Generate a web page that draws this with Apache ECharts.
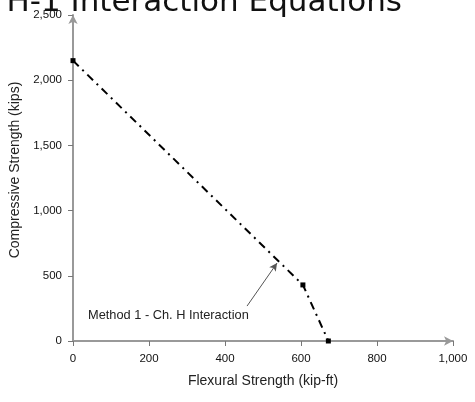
<!DOCTYPE html>
<html>
<head>
<meta charset="utf-8">
<script src="https://cdn.jsdelivr.net/npm/echarts@6/dist/echarts.min.js"></script>
<style>
  html, body { margin: 0; padding: 0; background: #fff; }
  #chart { width: 475px; height: 402px; }
</style>
</head>
<body>
<div id="chart"></div>
<script>
// interaction curve points: [flexural (kip-ft), compressive (kips)]
const flexural = [0, 605, 672];
const compressive = [2150, 430, 0];
const xTicks = [0, 200, 400, 600, 800, 1000];
const yTicks = [0, 500, 1000, 1500, 2000, 2500];
// annotation arrow, from label to curve (data units)
const arrowFrom = [458, 268];
const arrowTo = [537, 598];

const fmt = v => v.toLocaleString('en-US');
const curve = flexural.map((x, i) => [x, compressive[i]]);

const chart = echarts.init(document.getElementById('chart'), null, { renderer: 'canvas' });

const axisCommon = {
	axisLine: {
		lineStyle: { color: '#999', width: 2 },
		symbol: ['none', 'arrow'],
		symbolSize: [7, 9]
	},
	axisTick: { length: 5, lineStyle: { color: '#777', width: 1 } },
	splitLine: { show: false },
	axisLabel: { color: '#111', fontSize: 11.5, fontFamily: 'Liberation Sans', formatter: fmt },
	nameTextStyle: { color: '#222', fontSize: 14, fontFamily: 'Liberation Sans' },
	nameLocation: 'middle'
};

chart.setOption({
	animation: false,
	backgroundColor: '#fff',
	grid: { left: 73, right: 22, top: 15, bottom: 61, outerBoundsMode: 'none', containLabel: false },
	xAxis: Object.assign({}, axisCommon, {
		type: 'value',
		min: xTicks[0],
		max: xTicks[xTicks.length - 1],
		interval: 200,
		name: 'Flexural Strength (kip-ft)',
		nameGap: 33,
		axisLabel: Object.assign({}, axisCommon.axisLabel, { margin: 12 })
	}),
	yAxis: Object.assign({}, axisCommon, {
		type: 'value',
		min: yTicks[0],
		max: yTicks[yTicks.length - 1],
		interval: 500,
		name: 'Compressive Strength (kips)',
		nameGap: 48,
		nameTextStyle: Object.assign({}, axisCommon.nameTextStyle, { padding: [0, 0, 0, 16] }),
		axisLabel: Object.assign({}, axisCommon.axisLabel, { margin: 11 })
	}),
	graphic: [
		{
			type: 'text',
			right: 73,
			top: -13,
			style: {
				text: 'H-1 Interaction Equations',
				font: '31px "DejaVu Sans"',
				fill: '#111'
			}
		},
		{
			type: 'text',
			left: 88,
			top: 309,
			style: {
				text: 'Method 1 - Ch. H Interaction',
				font: '12.8px "Liberation Sans"',
				fill: '#222'
			}
		}
	],
	series: [
		{
			type: 'line',
			data: curve,
			symbol: 'rect',
			symbolSize: 5,
			itemStyle: { color: '#000' },
			lineStyle: { color: '#000', width: 2, type: [8, 5, 2, 5] },
			markLine: {
				silent: true,
				symbol: ['none', 'arrow'],
				symbolSize: [6, 8],
				label: { show: false },
				lineStyle: { color: '#555', width: 1, type: 'solid' },
				data: [[{ coord: arrowFrom }, { coord: arrowTo }]]
			}
		}
	]
});
</script>
</body>
</html>
